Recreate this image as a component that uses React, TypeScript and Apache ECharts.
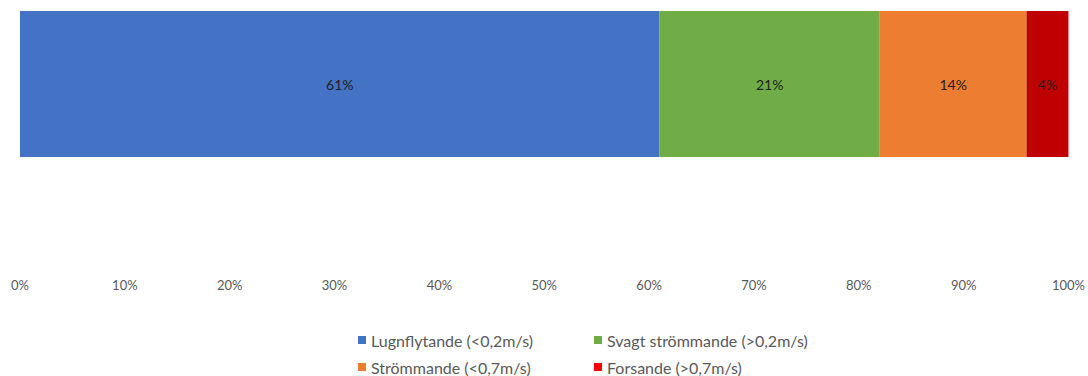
import React, { useEffect, useRef } from "react";
import * as echarts from "echarts";

// Share of the stretch by flow class (percent of total length)
const categories = ["Sträcka"];
const seriesNames = [
  "Lugnflytande (<0,2m/s)",
  "Svagt strömmande (>0,2m/s)",
  "Strömmande (<0,7m/s)",
  "Forsande (>0,7m/s)",
];
const seriesValues = [61, 21, 14, 4];
const barColors = ["#4472C4", "#70AD47", "#ED7D31", "#C00000"];
const legendColors = ["#4472C4", "#70AD47", "#ED7D31", "#FF0000"];
const tickLabels = ["0%", "10%", "20%", "30%", "40%", "50%", "60%", "70%", "80%", "90%", "100%"];

const FONT = "Lato, 'Open Sans', sans-serif";

// legend grid: two columns, two rows
const legendLeft = [358, 594, 358, 594];
const legendTop = [332, 332, 359, 359];

export default function App() {
  const ref = useRef<HTMLDivElement>(null);

  useEffect(() => {
    if (!ref.current) return;
    const chart = echarts.init(ref.current, undefined, { renderer: "svg" });

    const series = seriesNames.map((name, i) => ({
      name,
      type: "bar" as const,
      stack: "total",
      barWidth: "100%",
      data: [seriesValues[i]],
      itemStyle: { color: barColors[i] },
      label: {
        show: true,
        position: "inside" as const,
        formatter: (p: any) => `${p.value}%`,
        color: "#1f1f1f",
        fontSize: 14,
        fontFamily: FONT,
      },
      emphasis: { disabled: true },
    }));

    const legends = seriesNames.map((name, i) => ({
      left: legendLeft[i],
      top: legendTop[i],
      padding: 0,
      orient: "horizontal" as const,
      itemWidth: 8,
      itemHeight: 8,
      icon: "rect",
      selectedMode: false,
      textStyle: {
        color: "#595959",
        fontSize: 16,
        fontFamily: FONT,
      },
      data: [{ name, itemStyle: { color: legendColors[i] } }],
    }));

    chart.setOption({
      animation: false,
      backgroundColor: "#ffffff",
      grid: { left: 20, right: 18, top: 11, height: 146, containLabel: false },
      xAxis: {
        type: "value",
        min: 0,
        max: 100,
        interval: 10,
        offset: 113,
        axisLine: { show: false },
        axisTick: { show: false },
        splitLine: { show: false },
        axisLabel: {
          formatter: (v: number) => tickLabels[Math.round(v / 10)],
          color: "#595959",
          fontSize: 13,
          fontFamily: FONT,
          margin: 8,
        },
      },
      yAxis: {
        type: "category",
        data: categories,
        axisLine: { show: false },
        axisTick: { show: false },
        axisLabel: { show: false },
        splitLine: { show: false },
      },
      legend: legends,
      series,
    });

    return () => chart.dispose();
  }, []);

  return (
    <div
      ref={ref}
      style={{ position: "absolute", left: 0, top: 0, width: 1088, height: 376 }}
    />
  );
}
